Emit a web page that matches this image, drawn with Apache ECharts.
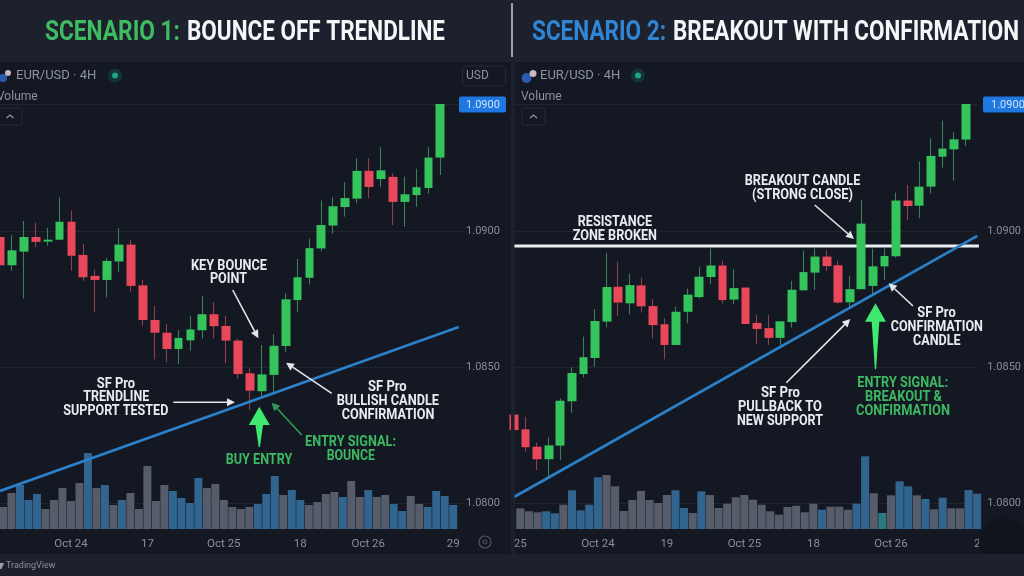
<!DOCTYPE html>
<html><head><meta charset="utf-8">
<style>html,body{margin:0;padding:0;background:#1c212d;overflow:hidden}#c{width:1024px;height:576px}</style>
<script src="https://cdn.jsdelivr.net/npm/echarts@6/dist/echarts.min.js"></script></head>
<body><div id="c"></div>
<script>
// [open, close, low, high]
const s1Ohlc=[[1.08978,1.08874,1.08844,1.09075],[1.08874,1.08929,1.08854,1.08985],[1.08924,1.08978,1.08752,1.09037],[1.08978,1.0896,1.0894,1.09031],[1.08961,1.08968,1.08946,1.09012],[1.08968,1.09034,1.08967,1.09123],[1.09034,1.08909,1.08854,1.09075],[1.08912,1.0883,1.08817,1.08952],[1.08835,1.0882,1.08701,1.08857],[1.0882,1.0889,1.08756,1.089],[1.08888,1.0895,1.08848,1.0901],[1.0895,1.08798,1.08777,1.08968],[1.088,1.08673,1.08651,1.0882],[1.08673,1.08626,1.08528,1.08725],[1.08626,1.08566,1.08517,1.08657],[1.08566,1.08607,1.08511,1.08636],[1.08598,1.08638,1.0856,1.08689],[1.08635,1.08694,1.08605,1.08761],[1.08694,1.0865,1.08605,1.08739],[1.08651,1.08597,1.08513,1.08689],[1.08597,1.08474,1.08457,1.08605],[1.08477,1.08413,1.08342,1.08495],[1.08411,1.08473,1.08385,1.08581],[1.08471,1.08578,1.08409,1.08621],[1.08577,1.08749,1.08556,1.08771],[1.08746,1.0883,1.08703,1.08897],[1.08828,1.08937,1.08804,1.08972],[1.08936,1.09022,1.08926,1.09112],[1.0902,1.09091,1.0899,1.09124],[1.09088,1.09121,1.09053,1.0918],[1.09119,1.09221,1.09102,1.09268],[1.09221,1.09162,1.0912,1.09267],[1.09191,1.09223,1.09161,1.0931],[1.09199,1.09107,1.09022,1.09212],[1.09107,1.09135,1.09016,1.092],[1.09132,1.09161,1.09089,1.09229],[1.09158,1.0927,1.09138,1.09308],[1.0927,1.09467,1.09206,1.09467]];
const s2Ohlc=[[1.08325,1.08268,1.08254,1.08391],[1.08271,1.08205,1.08189,1.08317],[1.08207,1.08161,1.08121,1.08222],[1.08161,1.08212,1.08094,1.08241],[1.08211,1.08376,1.08158,1.08385],[1.08374,1.08478,1.08332,1.08499],[1.08474,1.08536,1.08462,1.08612],[1.08533,1.08669,1.08501,1.08713],[1.08667,1.08794,1.08646,1.0892],[1.08795,1.08737,1.08688,1.08887],[1.08734,1.08801,1.08694,1.08844],[1.088,1.08723,1.087,1.08828],[1.08724,1.08654,1.08605,1.08749],[1.08657,1.08581,1.08528,1.08679],[1.08581,1.08703,1.08581,1.08722],[1.08703,1.08766,1.08661,1.08788],[1.08757,1.08832,1.08752,1.08869],[1.08831,1.08873,1.08805,1.08936],[1.08873,1.08746,1.08734,1.08891],[1.08748,1.0879,1.0873,1.0886],[1.08792,1.08658,1.08658,1.08792],[1.08662,1.0864,1.08583,1.08691],[1.08643,1.08607,1.08581,1.08691],[1.08607,1.08668,1.08569,1.08668],[1.08665,1.08784,1.08645,1.08817],[1.08782,1.08849,1.08781,1.08928],[1.08847,1.08906,1.08783,1.08936],[1.08906,1.08871,1.08853,1.0893],[1.08874,1.08737,1.08734,1.08891],[1.08738,1.08786,1.08716,1.08836],[1.08786,1.09027,1.08786,1.09114],[1.08798,1.0887,1.08768,1.08935],[1.0887,1.08908,1.0882,1.08936],[1.08907,1.09112,1.08902,1.09141],[1.09112,1.09092,1.0904,1.09169],[1.09093,1.09163,1.09047,1.09256],[1.09163,1.09276,1.09138,1.09341],[1.09273,1.09303,1.09233,1.09406],[1.093,1.09337,1.09185,1.09363],[1.09336,1.09467,1.09313,1.09467]];
const s1Vol=[22,36,44,29,35,20,29,41,28,46,76,41,44,24,29,36,20,63,28,44,38,31,26,51,41,45,29,22,20,22,25,35,53,34,39,29,24,27,35,37,32,48,32,39,32,34,25,18,33,25,22,38,33,24];
const s2Vol=[20.7,17.7,16.7,17.7,15.7,24.3,38.7,18.7,24.3,51.7,54,42.7,18,29,38,29,26,34,38.7,21,16,37.7,34,21,25.3,31.7,34,29.3,24.3,17.7,14.3,22,23.3,16.7,25.3,19.3,22.3,22.3,19.3,25.3,72.7,35.7,16,33.7,47.7,42.7,33.7,30,19.7,31.3,20.7,20.7,39,35.3];
const s1VolKind=[0,0,1,1,1,0,0,0,0,0,1,0,1,0,1,0,0,0,0,0,1,1,1,1,0,0,0,0,0,0,1,1,1,0,1,1,0,0,0,0,1,0,0,1,0,0,1,1,0,0,1,1,1,1];
const s2VolKind=[0,0,0,1,1,0,1,1,1,1,0,0,0,0,0,0,0,0,1,1,0,1,0,0,0,0,0,0,0,0,0,0,0,0,0,1,0,0,0,1,1,0,2,0,1,1,0,1,0,1,0,0,1,1];
const s1TimeLabels={8:'Oct 24',17:'17',26:'Oct 25',35:'18',43:'Oct 26',53:'29'};
const s2TimeLabels={0:'25',9:'Oct 24',17:'19',26:'Oct 25',34:'18',43:'Oct 26',53:'2'};
const s1Trend=[[0,1.08044],[38.55,1.08647]];
const s2Trend=[[0,1.08022],[40.01,1.08982]];
const s2Resistance=[[0,1.08945],[40.15,1.08945]];
const PRICE_MIN=1.08,PRICE_MAX=1.094669,PRICE_STEP=0.005;

const GREEN='#35c45c',RED='#e9485a',GW='#3a7f55',RW='#8f3f4e';
const TREND='#2c80c8';
const volColors=['#575c6b','#31648f','#2c7a80'];
const meas=document.createElement('canvas').getContext('2d');
function fit(t,x0,x1,yc,size,fill,z){
  const font='700 '+size+'px Roboto';meas.font=font;
  return {type:'text',x:x0,y:yc+1,scaleX:(x1-x0)/meas.measureText(t).width,z:z||60,silent:true,
    style:{text:t,font:font,fill:fill,align:'left',verticalAlign:'middle'}};
}
function plain(t,x,y,size,fill,align){return {type:'text',x:x,y:y+1,z:60,silent:true,style:{text:t,font:size+'px Roboto',fill:fill,align:align||'left',verticalAlign:'middle'}};}
function arrow(x0,y0,x1,y1,col,w){
  const a=Math.atan2(y1-y0,x1-x0),L=8,H=4;
  const bx=x1-L*Math.cos(a),by=y1-L*Math.sin(a);
  return [{type:'line',z:55,silent:true,shape:{x1:x0,y1:y0,x2:bx,y2:by},style:{stroke:col,lineWidth:w||1.6}},
   {type:'polygon',z:55,silent:true,shape:{points:[[x1,y1],[bx+H*Math.sin(a),by-H*Math.cos(a)],[bx-H*Math.sin(a),by+H*Math.cos(a)]]},style:{fill:col}}];
}
function bigArrow(x,tip,base,end,col){
  return {type:'polygon',z:56,silent:true,shape:{points:[[x,tip],[x+10.5,base],[x+3.8,base],[x+.6,end],[x-.6,end],[x-3.8,base],[x-10.5,base]]},style:{fill:col}};
}
const W='#e9ebee',G2='#3db863',BR='#3fe86e',ARW='#e4e6ea';
const T=14;
const annotations=[
 fit('SCENARIO 1:',45,180,32,27,'#3fbb60'),fit('BOUNCE OFF TRENDLINE',187,445,32,27,'#f5f6f7'),
 fit('SCENARIO 2:',532,666,32,27,'#2f86d6'),fit('BREAKOUT WITH CONFIRMATION',673,1019,32,27,'#f5f6f7'),
 fit('KEY BOUNCE',191,267,265,T,W),fit('POINT',210,247,278,T,W),
 fit('SF Pro',96.7,135,383,T,W),fit('TRENDLINE',83.3,149.3,396.7,T,W),fit('SUPPORT TESTED',63.3,168.3,410,T,W),
 fit('SF Pro',368,406.7,386.7,T,W),fit('BULLISH CANDLE',336.7,439,400.7,T,W),fit('CONFIRMATION',341.7,434.3,414,T,W),
 fit('ENTRY SIGNAL:',305,396,441.7,T,G2),fit('BOUNCE',326.7,375,455,T,G2),fit('BUY ENTRY',225.7,292.3,459,T,G2),
 ...arrow(232.7,290,258.3,338.3,ARW),...arrow(173.3,402.3,235,402.3,ARW),...arrow(331.7,393.3,286,362.7,ARW),...arrow(301.7,435,271.7,402.7,'#359a58'),
 bigArrow(259.3,406.7,425,447,BR),
 fit('RESISTANCE',577.7,652,221.7,T,W),fit('ZONE BROKEN',572.7,657,235.7,T,W),
 fit('BREAKOUT CANDLE',744.7,860.3,180.7,T,W),fit('(STRONG CLOSE)',752,853,194.3,T,W),
 fit('SF Pro',917.3,955.7,312.3,T,W),fit('CONFIRMATION',890.7,983,326,T,W),fit('CANDLE',913,960.7,340,T,W),
 fit('SF Pro',761,800,392,T,W),fit('PULLBACK TO',738,822,406,T,W),fit('NEW SUPPORT',737,823,420,T,W),
 fit('ENTRY SIGNAL:',857.3,948.3,382.3,T,G2),fit('BREAKOUT &',865,942,396,T,G2),fit('CONFIRMATION',856,950,410,T,G2),
 ...arrow(814.7,205,854,239,ARW),...arrow(913,306,888.7,283.3,ARW),...arrow(786.3,382.7,850.3,319,ARW),
 bigArrow(875.5,303.3,321.7,369.3,BR),
 // chrome
 {type:'rect',z:60,shape:{x:459,y:96.5,width:47,height:16,r:2},style:{fill:'#1f77e0'}},plain('1.0900',483,104,11,'#cfe3fb','center'),
 {type:'rect',z:60,shape:{x:983,y:96.5,width:47,height:16,r:2},style:{fill:'#1f77e0'}},plain('1.0900',991,104,11,'#cfe3fb'),
 plain('EUR/USD · 4H',16,75,13,'#8d93a1'),plain('EUR/USD · 4H',540,75,13,'#8d93a1'),
 plain('Volume',-3,96,12,'#8d93a1'),plain('Volume',521,96,12,'#8d93a1'),
 {type:'circle',z:60,shape:{cx:3,cy:78,r:4},style:{fill:'#2a5bb0'}},{type:'circle',z:60,shape:{cx:8,cy:73,r:3},style:{fill:'#c9b7c4'}},
 {type:'circle',z:60,shape:{cx:526.5,cy:78,r:5},style:{fill:'#2a5bb0'}},{type:'circle',z:60,shape:{cx:533,cy:73.5,r:3.5},style:{fill:'#c9b7c4'}},
 {type:'circle',z:60,shape:{cx:115,cy:75.5,r:7},style:{fill:'#15343a'}},{type:'circle',z:60,shape:{cx:115,cy:75.5,r:3},style:{fill:'#20a57c'}},
 {type:'circle',z:60,shape:{cx:638,cy:75.5,r:7},style:{fill:'#15343a'}},{type:'circle',z:60,shape:{cx:638,cy:75.5,r:3},style:{fill:'#20a57c'}},
 {type:'rect',z:60,shape:{x:462.5,y:66,width:43,height:20,r:3},style:{fill:'none',stroke:'#262b38'}},plain('USD',466,75,12,'#8d93a1'),
 {type:'rect',z:60,shape:{x:-6,y:108,width:28,height:17,r:2},style:{fill:'none',stroke:'#262b38'}},
 {type:'rect',z:60,shape:{x:522,y:108,width:23,height:17,r:2},style:{fill:'none',stroke:'#262b38'}},
 {type:'polyline',z:60,shape:{points:[[6.5,118],[10,115],[13.5,118]]},style:{stroke:'#8d93a1',fill:'none',lineWidth:1.3}},
 {type:'polyline',z:60,shape:{points:[[530,118],[533.5,115],[537,118]]},style:{stroke:'#8d93a1',fill:'none',lineWidth:1.3}},
 {type:'circle',z:60,shape:{cx:485,cy:542,r:6},style:{fill:'none',stroke:'#4f5563',lineWidth:1.2}},{type:'circle',z:60,shape:{cx:485,cy:542,r:2},style:{fill:'none',stroke:'#4f5563'}},
 {type:'polygon',z:60,shape:{points:[[0,563],[4,563],[1.5,569],[0,569]]},style:{fill:'#9aa0ad'}},
 plain('TradingView',6,565,9,'#8a8f9c'),
 {type:'line',z:60,shape:{x1:512,y1:3,x2:512,y2:57},style:{stroke:'#d5d7db',lineWidth:1.4}},
 {type:'rect',z:0,shape:{x:-2,y:62,width:513,height:492},style:{fill:'#131823'}},
 {type:'rect',z:0,shape:{x:515,y:62,width:511,height:492},style:{fill:'#131823'}},
 {type:'rect',z:57,shape:{x:511,y:62,width:3.5,height:492},style:{fill:'#1c212d'}},
 {type:'ellipse',z:57,shape:{cx:1003,cy:545,rx:24,ry:28},style:{fill:'#11141d'}},
 {type:'rect',z:58,shape:{x:960,y:554,width:64,height:22},style:{fill:'#1c212d'}},
];

function cats(n,map){return Array.from({length:n},(_,i)=>map&&map[i]||'');}
// First category sits on the grid's left edge, so the first candle and bar can hang over it.
function panel(ohlc,vol,candleLeft,band,volLeft,volBand,pad){
  const n=ohlc.length+pad;
  return {n,grids:[
    {left:candleLeft,width:band*(n-1),top:104,height:399},
    {left:volLeft,width:volBand*(vol.length-1),top:453,height:76}]};
}
const P1=panel(s1Ohlc,s1Vol,0,11.9,2.67,8.5,2);
const P2=panel(s2Ohlc,s2Vol,514,11.68,520.3,8.62,1);
const xHidden=(type,gi,n)=>type==='category'?
  {type:'category',gridIndex:gi,data:cats(n),show:false,boundaryGap:false}:
  {type:'value',gridIndex:gi,min:0,max:n-1,show:false,splitLine:{show:false}};
const xVol=(gi,vol,map)=>({type:'category',gridIndex:gi,boundaryGap:false,data:cats(vol.length,map),
  axisLine:{show:false},axisTick:{show:false},
  axisLabel:{interval:0,color:'#8a8f9c',fontSize:11.5,fontFamily:'Roboto',margin:9,hideOverlap:false}});
const yPrice=(gi,m)=>({type:'value',gridIndex:gi,position:'right',min:PRICE_MIN,max:PRICE_MAX,interval:PRICE_STEP,
  axisLine:{show:false},axisTick:{show:false},
  splitLine:{show:true,lineStyle:{color:'#20252f',width:1}},
  axisLabel:{showMaxLabel:false,showMinLabel:true,color:'#868b98',fontSize:11,fontFamily:'Roboto',margin:m,padding:[2,0,0,0],formatter:v=>v.toFixed(4)}});
const yVol=gi=>({type:'value',gridIndex:gi,min:0,max:76,show:false,splitLine:{show:false}});
function candles(ohlc,xi,yi){
  const base={type:'candlestick',xAxisIndex:xi,yAxisIndex:yi,silent:true,animation:false,clip:false};
  return [
   {...base,z:3,barWidth:1,data:ohlc,itemStyle:{color:GW,color0:RW,borderColor:GW,borderColor0:RW,borderWidth:1.1}},
   {...base,z:4,barWidth:9.3,data:ohlc.map(r=>[r[0],r[1],Math.min(r[0],r[1]),Math.max(r[0],r[1])]),
     itemStyle:{color:GREEN,color0:RED,borderColor:GREEN,borderColor0:RED,borderWidth:0}}];
}
const lineS=(data,xi,yi,color,w,z)=>({type:'line',xAxisIndex:xi,yAxisIndex:yi,data,symbol:'none',silent:true,animation:false,clip:false,z,lineStyle:{color,width:w}});
const barS=(vol,kind,xi,yi)=>({type:'bar',xAxisIndex:xi,yAxisIndex:yi,silent:true,animation:false,z:2,barCategoryGap:'6%',
  data:vol.map((v,i)=>({value:v,itemStyle:{color:volColors[kind[i]]}}))});

const chart=echarts.init(document.getElementById('c'),null,{renderer:'canvas',width:1024,height:576});
chart.setOption({
  animation:false,backgroundColor:'#1c212d',
  graphic:{elements:annotations},
  grid:[...P1.grids,...P2.grids],
  xAxis:[xHidden('category',0,P1.n),xHidden('value',0,P1.n),xVol(1,s1Vol,s1TimeLabels),
         xHidden('category',2,P2.n),xHidden('value',2,P2.n),xVol(3,s2Vol,s2TimeLabels)],
  yAxis:[yPrice(0,2),yVol(1),yPrice(2,10),yVol(3)],
  series:[
    barS(s1Vol,s1VolKind,2,1),
    ...candles(s1Ohlc,0,0),
    lineS(s1Trend,1,0,TREND,2.8,6),
    barS(s2Vol,s2VolKind,5,3),
    lineS(s2Resistance,4,2,'#eceef1',3,3),
    ...candles(s2Ohlc,3,2),
    lineS(s2Trend,4,2,TREND,2.8,6),
  ]
});
</script></body></html>
